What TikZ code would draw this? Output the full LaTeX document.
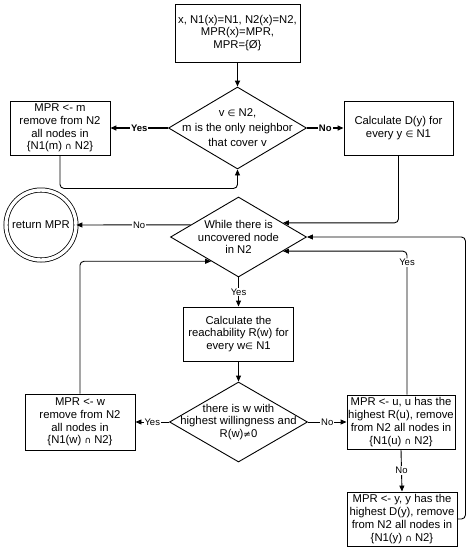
\documentclass[tikz,border=0pt]{standalone}
\usepackage{fontspec}
\setmainfont{Liberation Sans}
\newfontfamily\symf{DejaVu Sans}[Scale=0.8]
\usetikzlibrary{shapes.geometric,arrows.meta,calc}
\newcommand{\fs}{\fontsize{11.3}{12.8}\selectfont}
\newcommand{\lfs}{\fontsize{9.5}{11}\selectfont}
\newcommand{\inn}{{\symf ∈}}
\newcommand{\intr}{{\symf ∩}}
\newcommand{\neqq}{{\symf ≠}}
\begin{document}
\begin{tikzpicture}[x=1pt,y=-1pt,
  box/.style={draw, line width=0.9pt, rectangle, align=center, font=\fs, inner sep=0pt},
  dia/.style={draw, line width=0.9pt, diamond, inner sep=0pt},
  txt/.style={align=center, font=\fs, inner sep=0pt},
  arr/.style={line width=0.9pt, -{Triangle[length=6pt,width=5pt]}},
  lab/.style={font=\lfs, fill=white, inner sep=1pt},
  blab/.style={font=\lfs\bfseries, fill=white, inner sep=1pt},
  rc/.style={rounded corners=4pt}]
\useasboundingbox (0,0) rectangle (476,550);

% nodes
\node[box, minimum width=125pt, minimum height=58pt] (start) at (237.5,33)
  {x, N1(x)=N1, N2(x)=N2,\\MPR(x)=MPR,\\MPR=\{Ø\}};
\node[dia, minimum width=138pt, minimum height=82pt] (d1) at (237.5,128) {};
\node[txt, font=\fontsize{11.3}{15}\selectfont] (d1t) at (d1) {v \inn{} N2,\\m is the only neighbor\\that cover v};
\node[box, minimum width=100pt, minimum height=54pt] (lb1) at (60,128)
  {MPR <- m\\remove from N2\\all nodes in\\\{N1(m) \intr{} N2\}};
\node[box, minimum width=109pt, minimum height=54pt] (rb1) at (398.5,128)
  {Calculate D(y) for\\every y \inn{} N1};

\node[circle, draw, line width=0.8pt, double, double distance=3.4pt, minimum size=70pt, inner sep=0pt, font=\fs] (ret) at (41,225) {return MPR};
\node[dia, minimum width=136pt, minimum height=80pt] (d2) at (238.5,237) {};
\node[txt] (d2t) at (d2) {While there is\\uncovered node\\in N2};

\node[box, minimum width=110pt, minimum height=54pt] (cr) at (238.5,334)
  {Calculate the\\reachability R(w) for\\every w\inn{} N1};

\node[dia, minimum width=138pt, minimum height=80pt] (d3) at (238.5,422) {};
\node[txt] (d3t) at (d3) {there is w with\\highest willingness and\\R(w)\neqq{}0};
\node[box, minimum width=110pt, minimum height=56pt] (lb2) at (80,422)
  {MPR <- w\\remove from N2\\all nodes in\\\{N1(w) \intr{} N2\}};
\node[box, minimum width=108pt, minimum height=54pt] (rb2) at (401,422)
  {MPR <- u, u has the\\highest R(u), remove\\from N2 all nodes in\\\{N1(u) \intr{} N2\}};
\node[box, minimum width=110pt, minimum height=54pt] (bb) at (402,519)
  {MPR <- y, y has the\\highest D(y), remove\\from N2 all nodes in\\\{N1(y) \intr{} N2\}};

% points on diamond d2 edges
\coordinate (pUR) at ($(d2.east)!0.35!(d2.north)$);
\coordinate (pLR) at ($(d2.east)!0.35!(d2.south)$);
\coordinate (pLL) at ($(d2.west)!0.6!(d2.south)$);
\coordinate (pUL) at ($(d2.west)!0.3!(d2.north)$);

% connectors
\draw[arr, line width=1.6pt] (start) -- (d1.north);
\draw[arr, line width=1.3pt] (d1.west) -- node[blab]{Yes} (lb1.east);
\draw[arr, line width=1.3pt] (d1.east) -- node[blab]{No} (rb1.west);
\draw[arr, rc] (lb1.south) -- ++(0,33) -| (d1.south);
\draw[arr, rc] (rb1.south) |- (pUR);
\draw[arr] (pUL) -- node[lab, pos=0.45]{No} (ret);
\draw[arr] (d2.south) -- node[lab]{Yes} (cr.north);
\draw[arr] (cr.south) -- (d3.north);
\draw[arr] (d3.west) -- node[lab]{Yes} (lb2.east);
\draw[arr] (d3.east) -- node[lab]{No} (rb2.west);
\draw[arr, rc] (lb2.north) |- (pLL);
\draw[arr, rc] ([xshift=6pt]rb2.north) |- node[lab, pos=0.46]{Yes} (pLR);
\draw[arr] (rb2.south) -- node[lab]{No} (bb.north);
\draw[arr, rc] (bb.east) -- ++(8,0) |- (d2.east);
\end{tikzpicture}
\end{document}
